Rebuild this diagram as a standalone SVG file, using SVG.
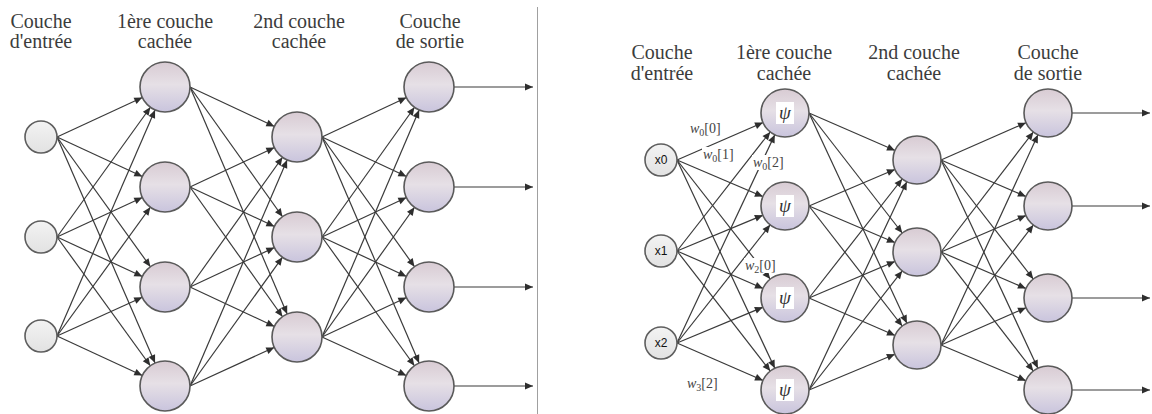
<svg xmlns="http://www.w3.org/2000/svg" width="1152" height="414" viewBox="0 0 1152 414">
  <defs>
    <linearGradient id="gNeuron" x1="0" y1="0" x2="0" y2="1">
      <stop offset="0" stop-color="#d8cbd3"/>
      <stop offset="0.45" stop-color="#e6e0e6"/>
      <stop offset="1" stop-color="#c9c4dd"/>
    </linearGradient>
    <linearGradient id="gInput" x1="0" y1="0" x2="0" y2="1">
      <stop offset="0" stop-color="#f3f3f3"/>
      <stop offset="1" stop-color="#e2e2e2"/>
    </linearGradient>
    <!-- arrowheads set back by the node radius so the tip lands on the circle -->
    <marker id="aL" markerUnits="userSpaceOnUse" markerWidth="8" markerHeight="7" refX="33" refY="3.5" orient="auto" overflow="visible">
      <path d="M0,0 L8,3.5 L0,7 z" fill="#2e2e2e"/>
    </marker>
    <marker id="aR" markerUnits="userSpaceOnUse" markerWidth="8" markerHeight="7" refX="32" refY="3.5" orient="auto" overflow="visible">
      <path d="M0,0 L8,3.5 L0,7 z" fill="#2e2e2e"/>
    </marker>
    <marker id="aOut" markerUnits="userSpaceOnUse" markerWidth="8" markerHeight="7" refX="8" refY="3.5" orient="auto" overflow="visible">
      <path d="M0,0 L8,3.5 L0,7 z" fill="#2e2e2e"/>
    </marker>
  </defs>
  <style>
    .lbl { font-family: "Liberation Serif", "DejaVu Serif", serif; font-size: 20px; fill: #3c3c3c; text-anchor: middle; }
    .el { stroke: #3a3a3a; stroke-width: 1.2; fill: none; marker-end: url(#aL); }
    .er { stroke: #3a3a3a; stroke-width: 1.2; fill: none; marker-end: url(#aR); }
    .eo { stroke: #3a3a3a; stroke-width: 1.2; fill: none; marker-end: url(#aOut); }
    .in { fill: url(#gInput); stroke: #5e5e5e; stroke-width: 1.6; }
    .nr { fill: url(#gNeuron); stroke: #5a5a5a; stroke-width: 1.6; }
    .xl { font-family: "Liberation Sans", Arial, sans-serif; font-size: 12px; fill: #111; text-anchor: middle; }
    .psi { font-family: "Liberation Serif", "DejaVu Serif", serif; font-style: italic; font-size: 19px; fill: #333; text-anchor: middle; }
    .w { font-family: "Liberation Serif", "DejaVu Serif", serif; font-size: 14px; fill: #444; }
    .wi { font-style: italic; }
    .sub { font-size: 10px; }
  </style>
  <rect width="1152" height="414" fill="#ffffff"/>

  <!-- separator between the two networks -->
  <line x1="537.5" y1="7" x2="537.5" y2="414" stroke="#a0a0a0" stroke-width="1"/>

  <!-- layer titles, left network -->
  <g id="titles-left">
    <text class="lbl" x="41" y="28">Couche</text>
    <text class="lbl" x="41" y="48">d'entrée</text>
    <text class="lbl" x="165" y="28">1ère couche</text>
    <text class="lbl" x="165" y="48">cachée</text>
    <text class="lbl" x="299" y="28">2nd couche</text>
    <text class="lbl" x="299" y="48">cachée</text>
    <text class="lbl" x="430" y="28">Couche</text>
    <text class="lbl" x="430" y="48">de sortie</text>
  </g>

  <!-- layer titles, right network -->
  <g id="titles-right">
    <text class="lbl" x="662" y="59">Couche</text>
    <text class="lbl" x="662" y="80">d'entrée</text>
    <text class="lbl" x="784" y="59">1ère couche</text>
    <text class="lbl" x="784" y="80">cachée</text>
    <text class="lbl" x="914" y="59">2nd couche</text>
    <text class="lbl" x="914" y="80">cachée</text>
    <text class="lbl" x="1048" y="59">Couche</text>
    <text class="lbl" x="1048" y="80">de sortie</text>
  </g>

  <g id="connectors">
    <!-- left: input -> hidden 1 -->
    <path class="el" d="M57,137 L165,87"/><path class="el" d="M57,137 L165,187"/><path class="el" d="M57,137 L165,287"/><path class="el" d="M57,137 L165,386"/>
    <path class="el" d="M57,237 L165,87"/><path class="el" d="M57,237 L165,187"/><path class="el" d="M57,237 L165,287"/><path class="el" d="M57,237 L165,386"/>
    <path class="el" d="M57,336 L165,87"/><path class="el" d="M57,336 L165,187"/><path class="el" d="M57,336 L165,287"/><path class="el" d="M57,336 L165,386"/>
    <!-- left: hidden 1 -> hidden 2 -->
    <path class="el" d="M190,87 L297,137"/><path class="el" d="M190,87 L297,237"/><path class="el" d="M190,87 L297,337"/>
    <path class="el" d="M190,187 L297,137"/><path class="el" d="M190,187 L297,237"/><path class="el" d="M190,187 L297,337"/>
    <path class="el" d="M190,287 L297,137"/><path class="el" d="M190,287 L297,237"/><path class="el" d="M190,287 L297,337"/>
    <path class="el" d="M190,386 L297,137"/><path class="el" d="M190,386 L297,237"/><path class="el" d="M190,386 L297,337"/>
    <!-- left: hidden 2 -> output -->
    <path class="el" d="M322,137 L429,87"/><path class="el" d="M322,137 L429,187"/><path class="el" d="M322,137 L429,287"/><path class="el" d="M322,137 L429,386"/>
    <path class="el" d="M322,237 L429,87"/><path class="el" d="M322,237 L429,187"/><path class="el" d="M322,237 L429,287"/><path class="el" d="M322,237 L429,386"/>
    <path class="el" d="M322,337 L429,87"/><path class="el" d="M322,337 L429,187"/><path class="el" d="M322,337 L429,287"/><path class="el" d="M322,337 L429,386"/>
    <!-- left: outputs -->
    <path class="eo" d="M454,87 L533,87"/><path class="eo" d="M454,187 L533,187"/><path class="eo" d="M454,287 L533,287"/><path class="eo" d="M454,386 L533,386"/>

    <!-- right: input -> hidden 1 -->
    <path class="er" d="M677,160 L785,113"/><path class="er" d="M677,160 L785,206"/><path class="er" d="M677,160 L785,298"/><path class="er" d="M677,160 L785,390"/>
    <path class="er" d="M677,251 L785,113"/><path class="er" d="M677,251 L785,206"/><path class="er" d="M677,251 L785,298"/><path class="er" d="M677,251 L785,390"/>
    <path class="er" d="M677,343 L785,113"/><path class="er" d="M677,343 L785,206"/><path class="er" d="M677,343 L785,298"/><path class="er" d="M677,343 L785,390"/>
    <!-- right: hidden 1 -> hidden 2 -->
    <path class="er" d="M809,113 L917,160"/><path class="er" d="M809,113 L917,252"/><path class="er" d="M809,113 L917,345"/>
    <path class="er" d="M809,206 L917,160"/><path class="er" d="M809,206 L917,252"/><path class="er" d="M809,206 L917,345"/>
    <path class="er" d="M809,298 L917,160"/><path class="er" d="M809,298 L917,252"/><path class="er" d="M809,298 L917,345"/>
    <path class="er" d="M809,390 L917,160"/><path class="er" d="M809,390 L917,252"/><path class="er" d="M809,390 L917,345"/>
    <!-- right: hidden 2 -> output -->
    <path class="er" d="M941,160 L1048,113"/><path class="er" d="M941,160 L1048,206"/><path class="er" d="M941,160 L1048,298"/><path class="er" d="M941,160 L1048,390"/>
    <path class="er" d="M941,252 L1048,113"/><path class="er" d="M941,252 L1048,206"/><path class="er" d="M941,252 L1048,298"/><path class="er" d="M941,252 L1048,390"/>
    <path class="er" d="M941,345 L1048,113"/><path class="er" d="M941,345 L1048,206"/><path class="er" d="M941,345 L1048,298"/><path class="er" d="M941,345 L1048,390"/>
    <!-- right: outputs -->
    <path class="eo" d="M1072,113 L1150,113"/><path class="eo" d="M1072,206 L1150,206"/><path class="eo" d="M1072,298 L1150,298"/><path class="eo" d="M1072,390 L1150,390"/>
  </g>

  <!-- weight labels on the right network -->
  <g id="weights">
    <rect x="689" y="122" width="32" height="15" fill="#fff"/>
    <text class="w" x="690" y="133"><tspan class="wi">w</tspan><tspan class="sub" dy="3">0</tspan><tspan dy="-3">[0]</tspan></text>
    <rect x="702" y="147" width="33" height="15" fill="#fff"/>
    <text class="w" x="703" y="159"><tspan class="wi">w</tspan><tspan class="sub" dy="3">0</tspan><tspan dy="-3">[1]</tspan></text>
    <rect x="752" y="155" width="33" height="15" fill="#fff"/>
    <text class="w" x="753" y="167"><tspan class="wi">w</tspan><tspan class="sub" dy="3">0</tspan><tspan dy="-3">[2]</tspan></text>
    <rect x="744" y="258" width="33" height="15" fill="#fff"/>
    <text class="w" x="745" y="270"><tspan class="wi">w</tspan><tspan class="sub" dy="3">2</tspan><tspan dy="-3">[0]</tspan></text>
    <rect x="686" y="376" width="33" height="15" fill="#fff"/>
    <text class="w" x="687" y="388"><tspan class="wi">w</tspan><tspan class="sub" dy="3">3</tspan><tspan dy="-3">[2]</tspan></text>
  </g>

  <!-- left network nodes -->
  <g id="L-in0"><circle class="in" cx="41" cy="137" r="16"/></g>
  <g id="L-in1"><circle class="in" cx="41" cy="237" r="16"/></g>
  <g id="L-in2"><circle class="in" cx="41" cy="336" r="16"/></g>
  <g id="L-h1-0"><circle class="nr" cx="165" cy="87" r="25"/></g>
  <g id="L-h1-1"><circle class="nr" cx="165" cy="187" r="25"/></g>
  <g id="L-h1-2"><circle class="nr" cx="165" cy="287" r="25"/></g>
  <g id="L-h1-3"><circle class="nr" cx="165" cy="386" r="25"/></g>
  <g id="L-h2-0"><circle class="nr" cx="297" cy="137" r="25"/></g>
  <g id="L-h2-1"><circle class="nr" cx="297" cy="237" r="25"/></g>
  <g id="L-h2-2"><circle class="nr" cx="297" cy="337" r="25"/></g>
  <g id="L-out0"><circle class="nr" cx="429" cy="87" r="25"/></g>
  <g id="L-out1"><circle class="nr" cx="429" cy="187" r="25"/></g>
  <g id="L-out2"><circle class="nr" cx="429" cy="287" r="25"/></g>
  <g id="L-out3"><circle class="nr" cx="429" cy="386" r="25"/></g>

  <!-- right network nodes -->
  <g id="R-x0"><circle class="in" cx="661" cy="160" r="16"/><text class="xl" x="661" y="164">x0</text></g>
  <g id="R-x1"><circle class="in" cx="661" cy="251" r="16"/><text class="xl" x="661" y="255">x1</text></g>
  <g id="R-x2"><circle class="in" cx="661" cy="343" r="16"/><text class="xl" x="661" y="347">x2</text></g>
  <g id="R-h1-0"><circle class="nr" cx="785" cy="113" r="24"/><rect x="776" y="102" width="18" height="22" fill="#fff"/><text class="psi" x="785" y="119">ψ</text></g>
  <g id="R-h1-1"><circle class="nr" cx="785" cy="206" r="24"/><rect x="776" y="195" width="18" height="22" fill="#fff"/><text class="psi" x="785" y="212">ψ</text></g>
  <g id="R-h1-2"><circle class="nr" cx="785" cy="298" r="24"/><rect x="776" y="287" width="18" height="22" fill="#fff"/><text class="psi" x="785" y="304">ψ</text></g>
  <g id="R-h1-3"><circle class="nr" cx="785" cy="390" r="24"/><rect x="776" y="379" width="18" height="22" fill="#fff"/><text class="psi" x="785" y="396">ψ</text></g>
  <g id="R-h2-0"><circle class="nr" cx="917" cy="160" r="24"/></g>
  <g id="R-h2-1"><circle class="nr" cx="917" cy="252" r="24"/></g>
  <g id="R-h2-2"><circle class="nr" cx="917" cy="345" r="24"/></g>
  <g id="R-out0"><circle class="nr" cx="1048" cy="113" r="24"/></g>
  <g id="R-out1"><circle class="nr" cx="1048" cy="206" r="24"/></g>
  <g id="R-out2"><circle class="nr" cx="1048" cy="298" r="24"/></g>
  <g id="R-out3"><circle class="nr" cx="1048" cy="390" r="24"/></g>
</svg>
